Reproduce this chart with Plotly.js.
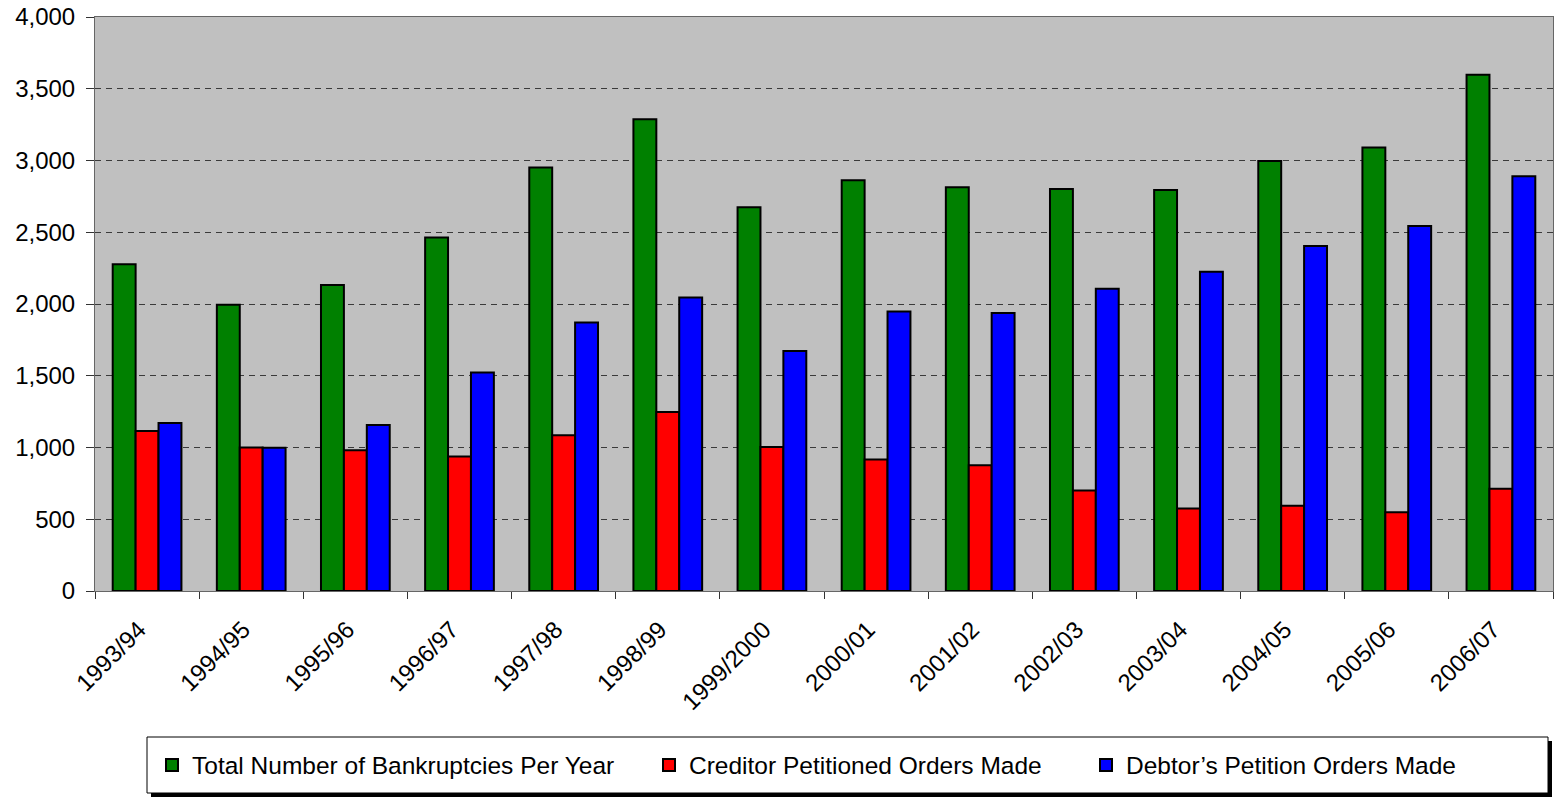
<!DOCTYPE html>
<html>
<head>
<meta charset="utf-8">
<script src="https://cdn.plot.ly/plotly-3.0.1.min.js"></script>
<style>html,body{margin:0;padding:0;background:#fff;}#chart{width:1555px;height:798px;}</style>
</head>
<body>
<div id="chart"></div>
<script>
var categories = ['1993/94','1994/95','1995/96','1996/97','1997/98','1998/99','1999/2000','2000/01','2001/02','2002/03','2003/04','2004/05','2005/06','2006/07'];
var totalBankruptcies = [2277, 1994, 2133, 2463, 2951, 3288, 2675, 2863, 2814, 2802, 2795, 2997, 3091, 3597];
var creditorOrders = [1115, 1000, 980, 938, 1086, 1248, 1004, 917, 877, 700, 575, 594, 549, 712];
var debtorOrders = [1170, 998, 1156, 1523, 1871, 2045, 1673, 1948, 1938, 2107, 2224, 2405, 2544, 2891];
var seriesNames = ['Total Number of Bankruptcies Per Year', 'Creditor Petitioned Orders Made', 'Debtor\u2019s Petition Orders Made'];
var yTicks = [0, 500, 1000, 1500, 2000, 2500, 3000, 3500, 4000];

var FONT = '"Liberation Sans", Arial, sans-serif';
function bar(name, vals, color, legendId) {
  return {type: 'bar', name: name, x: categories, y: vals, legend: legendId,
    marker: {color: color, line: {color: '#000000', width: 2}}};
}
var data = [
  bar(seriesNames[0], totalBankruptcies, '#008000', 'legend'),
  bar(seriesNames[1], creditorOrders, '#FF0000', 'legend2'),
  bar(seriesNames[2], debtorOrders, '#0000FF', 'legend3')
];

function px(x){ return (x - 95) / 1458; }
function py(y){ return (591 - y) / 574; }
function leg(xLeft) {
  return {
    orientation: 'h',
    x: px(xLeft), xanchor: 'left',
    y: py(765), yanchor: 'middle',
    bgcolor: 'rgba(0,0,0,0)', borderwidth: 0,
    font: {family: FONT, size: 24.5, color: '#000'}
  };
}

var layout = {
  width: 1555, height: 798,
  margin: {l: 95, r: 2, t: 17, b: 207, pad: 0},
  paper_bgcolor: '#FFFFFF',
  plot_bgcolor: '#C0C0C0',
  font: {family: FONT, size: 24, color: '#000000'},
  barmode: 'group',
  bargap: 0.34,
  bargroupgap: 0,
  showlegend: true,
  xaxis: {
    type: 'category',
    tickangle: -45,
    ticks: 'outside', tickson: 'boundaries', ticklen: 7, tickcolor: '#333',
    ticklabelstandoff: 14,
    ticklabelshift: -8,
    showline: true, linecolor: '#666', linewidth: 1, mirror: true,
    showgrid: false,
    tickfont: {family: FONT, size: 24, color: '#000'},
    automargin: false
  },
  yaxis: {
    range: [0, 4000],
    tickvals: yTicks,
    tickformat: ',d',
    ticks: 'outside', ticklen: 8, tickcolor: '#333',
    ticklabelstandoff: 6,
    showline: true, linecolor: '#666', linewidth: 1, mirror: true,
    showgrid: true, gridcolor: '#3a3a3a', gridwidth: 1, griddash: '6px,5px',
    zeroline: false,
    tickfont: {family: FONT, size: 24, color: '#000'},
    automargin: false
  },
  legend: leg(152),
  legend2: leg(649),
  legend3: leg(1086),
  shapes: [
    {type: 'rect', xref: 'paper', yref: 'paper', x0: px(151), x1: px(1552), y0: py(741), y1: py(797),
      fillcolor: '#000', line: {width: 0}, layer: 'above'},
    {type: 'rect', xref: 'paper', yref: 'paper', x0: px(147), x1: px(1548), y0: py(737), y1: py(793),
      fillcolor: '#FFF', line: {color: '#000', width: 1}, layer: 'above'}
  ]
};

Plotly.newPlot('chart', data, layout, {displayModeBar: false, responsive: false});
</script>
</body>
</html>
